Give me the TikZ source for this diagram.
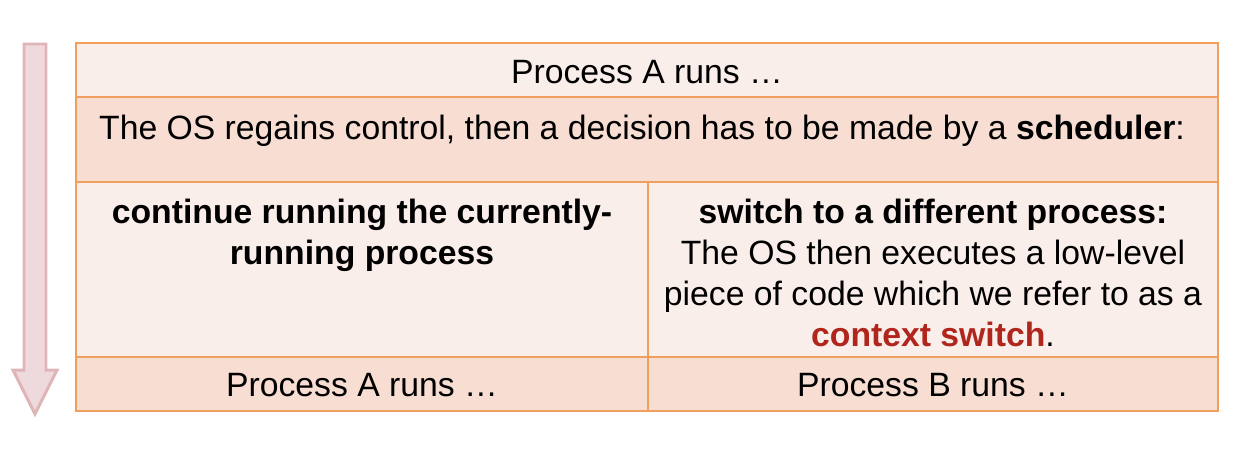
\documentclass[tikz,border=0pt]{standalone}
\usepackage{fontspec}
\setmainfont{Liberation Sans}
\definecolor{cellLight}{HTML}{FAEEEA}
\definecolor{cellDark}{HTML}{F7DDD2}
\definecolor{cellLine}{HTML}{F0A05C}
\definecolor{arrowFill}{HTML}{EED9DC}
\definecolor{arrowLine}{HTML}{DFB5B8}
\definecolor{switchRed}{HTML}{B0261C}
\tikzset{
  celltext/.style={inner sep=0pt, align=center, font=\fontsize{19.2}{23.2}\selectfont},
  rowline/.style={draw=cellLine, line width=1.1pt}
}
\begin{document}
\begin{tikzpicture}[x=0.02cm, y=-0.02cm]
  \useasboundingbox (0,0) rectangle (1246,474);

  % Time arrow
  \draw[fill=arrowFill, draw=arrowLine, line width=1.7pt, line join=miter]
    (24,44) -- (46,44) -- (46,370) -- (57,370) -- (35,414) -- (13,370) -- (24,370) -- cycle;

  % Rows of the table
  \fill[cellLight] (76,43) rectangle (1218,97);
  \fill[cellDark] (76,97) rectangle (1218,182);
  \fill[cellLight] (76,182) rectangle (1218,357);
  \fill[cellDark] (76,357) rectangle (1218,411);

  % Grid lines
  \draw[rowline] (76,43) rectangle (1218,411);
  \draw[rowline] (76,97) -- (1218,97);
  \draw[rowline] (76,182) -- (1218,182);
  \draw[rowline] (76,357) -- (1218,357);
  \draw[rowline] (648,182) -- (648,411);

  % Cell texts
  \node[celltext, anchor=base] (runA) at (647,83) {Process A runs …};
  \node[celltext, anchor=base] (regain) at (642,139)
    {The OS regains control, then a decision has to be made by a \textbf{scheduler}:};
  \node[celltext, anchor=north] (keep) at (362,199)
    {\textbf{continue running the currently-}\\\textbf{running process}};
  \node[celltext, anchor=north] (switch) at (933,199)
    {\textbf{switch to a different process:}\\The OS then executes a low-level\\piece of code which we refer to as a\\\textbf{\color{switchRed}context switch}.};
  \node[celltext, anchor=base] (afterA) at (362,396) {Process A runs …};
  \node[celltext, anchor=base] (afterB) at (933,396) {Process B runs …};
\end{tikzpicture}
\end{document}
